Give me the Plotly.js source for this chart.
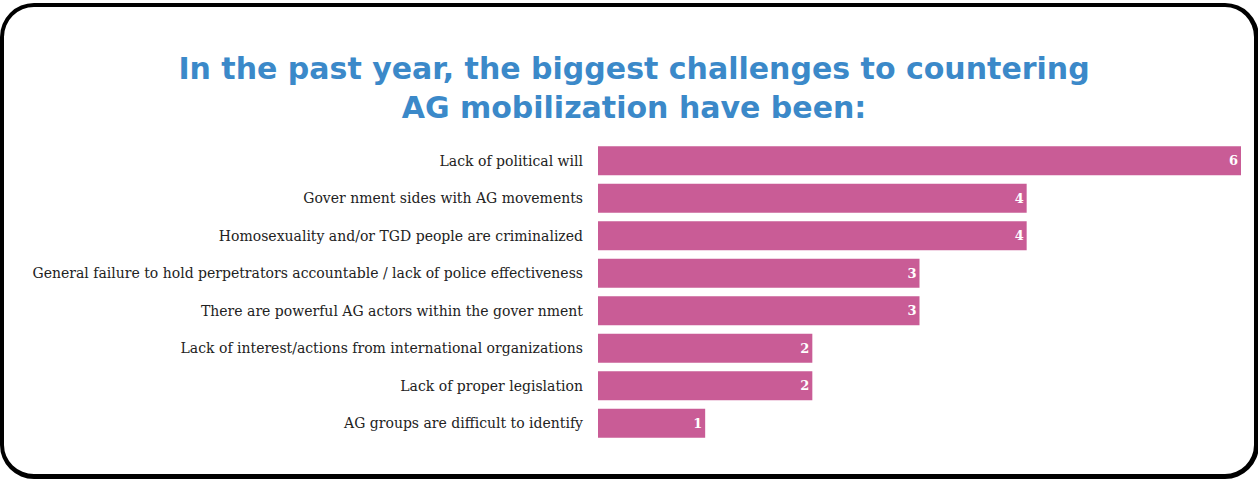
<!DOCTYPE html>
<html>
<head>
<meta charset="utf-8">
<script src="https://cdn.plot.ly/plotly-3.0.1.min.js"></script>
<style>
  html, body { margin: 0; padding: 0; background: #ffffff; }
  #wrap { position: relative; width: 1258px; height: 479px; overflow: hidden; background: #ffffff; }
  #frame { position: absolute; left: 0px; top: 3px; width: 1250px; height: 467px; border: 4px solid #000; border-right-width: 5px; border-bottom-width: 5px; border-radius: 34px; pointer-events: none; box-sizing: content-box; }
  #chart { position: absolute; left: 0; top: 0; width: 1258px; height: 479px; }
</style>
</head>
<body>
<div id="wrap">
  <div id="chart"></div>
  <div id="frame"></div>
</div>
<script>
const categories = [
  "Lack of political will",
  "Gover nment sides with AG movements",
  "Homosexuality and/or TGD people are criminalized",
  "General failure to hold perpetrators accountable / lack of police effectiveness",
  "There are powerful AG actors within the gover nment",
  "Lack of interest/actions from international organizations",
  "Lack of proper legislation",
  "AG groups are difficult to identify"
];
const values = [6, 4, 4, 3, 3, 2, 2, 1];
const titleText = "In the past year, the biggest challenges to countering<br>AG mobilization have been:";

const trace = {
  type: "bar",
  orientation: "h",
  y: categories,
  x: values,
  text: values.map(String),
  textposition: "inside",
  insidetextanchor: "end",
  textfont: { family: "DejaVu Serif, serif", size: 13, color: "#ffffff", weight: 700 },
  marker: { color: "#C95C96" },
  hoverinfo: "none",
  cliponaxis: false
};

const layout = {
  width: 1258,
  height: 479,
  margin: { l: 598, r: 17, t: 142, b: 37, pad: 0 },
  paper_bgcolor: "rgba(0,0,0,0)",
  plot_bgcolor: "rgba(0,0,0,0)",
  bargap: 0.23,
  showlegend: false,
  title: {
    text: titleText,
    x: 0.504,
    xref: "container",
    xanchor: "center",
    y: 0.836,
    yref: "container",
    yanchor: "top",
    font: { family: "DejaVu Sans, sans-serif", size: 30, color: "#3B89C9", weight: 700 }
  },
  xaxis: {
    range: [0, 6],
    visible: false,
    fixedrange: true
  },
  yaxis: {
    autorange: "reversed",
    showgrid: false,
    showline: false,
    zeroline: false,
    ticks: "",
    ticklabelstandoff: 14,
    tickfont: { family: "DejaVu Serif, serif", size: 14, color: "#222222" },
    fixedrange: true
  }
};

Plotly.newPlot("chart", [trace], layout, { displayModeBar: false, staticPlot: true });
</script>
</body>
</html>
